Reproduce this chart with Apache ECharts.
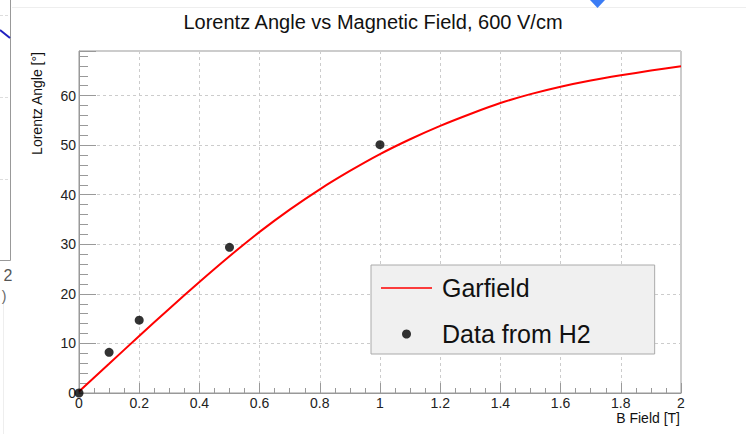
<!DOCTYPE html>
<html><head><meta charset="utf-8">
<script src="https://cdn.jsdelivr.net/npm/echarts@6/dist/echarts.min.js"></script>
<style>html,body{margin:0;padding:0;background:#fff}#c{width:746px;height:434px}</style>
</head><body><div id="c"></div>
<script>
const chartTitle = 'Lorentz Angle vs Magnetic Field, 600 V/cm';
const xAxisTitle = 'B Field [T]';
const yAxisTitle = 'Lorentz Angle [°]';
const garfieldName = 'Garfield';
const dataName = 'Data from H2';
const garfieldB = [0, 0.1, 0.2, 0.3, 0.4, 0.5, 0.6, 0.7, 0.8, 0.9, 1.0, 1.1, 1.2, 1.3, 1.4, 1.5, 1.6, 1.7, 1.8, 1.9, 2.0];
const garfieldAngle = [0.3, 5.9, 11.5, 17.0, 22.4, 27.6, 32.5, 37.0, 41.1, 44.8, 48.2, 51.2, 53.9, 56.3, 58.5, 60.3, 61.8, 63.05, 64.1, 65.05, 65.9];
const dataB = [0, 0.1, 0.2, 0.5, 1.0];
const dataAngle = [0, 8.2, 14.7, 29.4, 50.1];
const xTickLabels = ['0', '0.2', '0.4', '0.6', '0.8', '1', '1.2', '1.4', '1.6', '1.8', '2'];
const yTickLabels = ['0', '10', '20', '30', '40', '50', '60'];

const FONT = '"Liberation Sans", Arial, Helvetica, sans-serif';
const AX = '#999';

const chart = echarts.init(document.getElementById('c'), null, {renderer: 'svg'});
chart.setOption({
  animation: false,
  backgroundColor: '#fff',
  textStyle: {fontFamily: FONT},
  title: {
    text: chartTitle, left: 'center', top: 7, padding: [5, 0, 5, 9],
    textStyle: {fontSize: 20, fontWeight: 'normal', color: '#111', fontFamily: FONT}
  },
  grid: {left: 79, right: 65, top: 51, bottom: 41, show: true, borderColor: AX, borderWidth: 1, backgroundColor: 'transparent'},
  legend: {
    orient: 'vertical', align: 'left', left: 371, top: 265,
    padding: [9.5, 64, 6.5, 10], itemGap: 19, itemWidth: 51, itemHeight: 9,
    backgroundColor: '#f0f0f0', borderColor: '#aaa', borderWidth: 1, borderRadius: 0,
    selectedMode: false,
    textStyle: {fontSize: 25, color: '#111', lineHeight: 27, padding: [0, 0, 0, 5], fontFamily: FONT},
    data: [
      {name: garfieldName, icon: 'path://M0,0H51V1.6H0Z'},
      {name: dataName, icon: 'circle'}
    ]
  },
  xAxis: {
    type: 'value', min: 0, max: 2, interval: 0.2,
    axisLine: {show: true, lineStyle: {color: AX}},
    axisTick: {show: true, inside: true, length: 10, lineStyle: {color: AX}},
    minorTick: {show: true, splitNumber: 4, length: 5, lineStyle: {color: AX}},
    axisLabel: {margin: 3, fontSize: 14, color: '#222', fontFamily: FONT,
      formatter: v => xTickLabels[Math.round(v / 0.2)] || ''},
    splitLine: {show: true, lineStyle: {color: '#ccc', type: [3, 3]}}
  },
  yAxis: [{
    type: 'value', min: 0, max: 69, interval: 10,
    axisLine: {show: true, lineStyle: {color: AX}},
    axisTick: {show: true, inside: true, length: 17, lineStyle: {color: AX}},
    axisLabel: {margin: 3, fontSize: 14, color: '#222', fontFamily: FONT,
      formatter: v => (Math.abs(v % 10) < 1e-9 ? (yTickLabels[Math.round(v / 10)] || '') : '')},
    splitLine: {show: true, lineStyle: {color: '#ccc', type: [3, 3]}}
  }, {
    type: 'value', min: 0, max: 69, interval: 2, position: 'left',
    axisLine: {show: false},
    axisTick: {show: true, inside: true, length: 9, lineStyle: {color: AX}},
    axisLabel: {show: false},
    splitLine: {show: false}
  }],
  series: [{
    name: garfieldName, type: 'line', yAxisIndex: 0,
    data: garfieldB.map((b, i) => [b, garfieldAngle[i]]),
    symbol: 'none', showSymbol: false, smooth: 0.2,
    lineStyle: {color: '#ff0000', width: 2}, itemStyle: {color: '#ff0000'}, z: 3
  }, {
    name: dataName, type: 'scatter', yAxisIndex: 0,
    data: dataB.map((b, i) => [b, dataAngle[i]]),
    symbol: 'circle', symbolSize: 9, itemStyle: {color: '#000'}, z: 4
  }],
  graphic: [
    {type: 'text', x: 37, y: 52, rotation: Math.PI / 2,
      style: {text: yAxisTitle, fontSize: 14, fontFamily: FONT, fill: '#111', align: 'right', verticalAlign: 'middle'}},
    {type: 'text', x: 680, y: 418,
      style: {text: xAxisTitle, fontSize: 14, fontFamily: FONT, fill: '#111', align: 'right', verticalAlign: 'middle'}},
    {type: 'line', shape: {x1: 12, y1: 7.5, x2: 746, y2: 7.5}, style: {stroke: '#eee', lineWidth: 1}, silent: true},
    {type: 'polyline', shape: {points: [[10.5, 0], [10.5, 260.5], [0, 260.5]]}, style: {stroke: '#999', lineWidth: 1, fill: null}, silent: true},
    {type: 'line', shape: {x1: 0, y1: 15.5, x2: 10, y2: 15.5}, style: {stroke: '#ddd', lineWidth: 1, lineDash: [3, 2]}, silent: true},
    {type: 'line', shape: {x1: 0, y1: 97.5, x2: 10, y2: 97.5}, style: {stroke: '#ddd', lineWidth: 1, lineDash: [3, 2]}, silent: true},
    {type: 'line', shape: {x1: 0, y1: 179.5, x2: 10, y2: 179.5}, style: {stroke: '#ddd', lineWidth: 1, lineDash: [3, 2]}, silent: true},
    {type: 'line', shape: {x1: 0, y1: 30, x2: 10, y2: 38}, style: {stroke: '#2020c0', lineWidth: 2}, silent: true},
    {type: 'line', shape: {x1: 3.5, y1: 300, x2: 3.5, y2: 434}, style: {stroke: '#eee', lineWidth: 1}, silent: true},
    {type: 'text', x: 8, y: 275, style: {text: '2', fontSize: 16, fontFamily: FONT, fill: '#555', align: 'center', verticalAlign: 'middle'}},
    {type: 'text', x: 4, y: 296, style: {text: ')', fontSize: 14, fontFamily: FONT, fill: '#666', align: 'center', verticalAlign: 'middle'}},
    {type: 'polygon', shape: {points: [[590, 0], [605, 0], [597.5, 8]]}, style: {fill: '#3b7cf5'}, silent: true}
  ]
});
</script></body></html>
